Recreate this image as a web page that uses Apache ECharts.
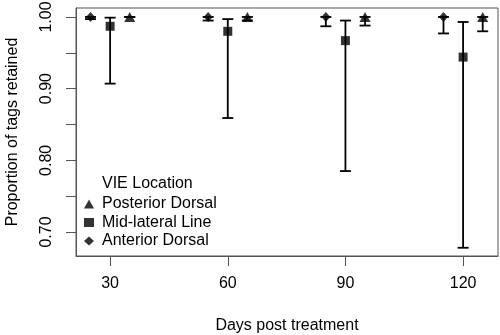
<!DOCTYPE html>
<html>
<head>
<meta charset="utf-8">
<script src="https://cdn.jsdelivr.net/npm/echarts@6/dist/echarts.min.js"></script>
<style>
  html, body { margin: 0; padding: 0; background: #fff; }
  #chart { width: 500px; height: 335px; }
</style>
</head>
<body>
<div id="chart"></div>
<script>
// Sampling days and retention estimates with confidence limits
const days = [30, 60, 90, 120];

const posteriorMean  = [1.000, 1.000, 1.000, 1.000];
const posteriorLower = [1.000, 0.995, 0.988, 0.980];
const posteriorUpper = [1.000, 1.000, 1.000, 1.000];

const midMean  = [0.987, 0.980, 0.967, 0.944];
const midLower = [0.907, 0.859, 0.785, 0.678];
const midUpper = [0.999, 0.997, 0.995, 0.993];

const anteriorMean  = [1.000, 1.000, 1.000, 1.000];
const anteriorLower = [0.997, 0.995, 0.987, 0.977];
const anteriorUpper = [1.000, 1.000, 1.000, 1.000];

const yTicks = [0.70, 0.75, 0.80, 0.85, 0.90, 0.95, 1.00];
const yLabels = [0.70, 0.80, 0.90, 1.00];

// Horizontal dodge (in days) so the three groups sit side by side
const DODGE = { anterior: -5, mid: 0, posterior: 5 };

const FONT = 'Liberation Sans, Arial, sans-serif';
const AXIS_GREY = '#555';

function points(mean, shift) {
  return days.map((d, i) => [d + shift, mean[i]]);
}
function bars(lower, upper, shift) {
  return days.map((d, i) => [d + shift, lower[i], upper[i]]);
}

// Vertical interval with end caps
function renderBar(params, api) {
  const x = api.value(0);
  const lo = api.coord([x, api.value(1)]);
  const hi = api.coord([x, api.value(2)]);
  const cap = 5.5;
  const style = { stroke: '#000', lineWidth: 1.8, fill: null };
  return {
    type: 'group',
    children: [
      { type: 'line', shape: { x1: lo[0], y1: lo[1], x2: hi[0], y2: hi[1] }, style },
      { type: 'line', shape: { x1: lo[0] - cap, y1: lo[1], x2: lo[0] + cap, y2: lo[1] }, style },
      { type: 'line', shape: { x1: hi[0] - cap, y1: hi[1], x2: hi[0] + cap, y2: hi[1] }, style }
    ]
  };
}

const chart = echarts.init(document.getElementById('chart'), null, { renderer: 'canvas' });

chart.setOption({
  animation: false,
  backgroundColor: '#fff',
  textStyle: { fontFamily: FONT },
  grid: {
    left: 76, right: 2, top: 8, bottom: 79,
    outerBoundsMode: 'none',
    containLabel: false,
    show: true, borderColor: AXIS_GREY, borderWidth: 1, backgroundColor: 'transparent'
  },
  title: {
    text: 'VIE Location',
    left: 97, top: 171,
    textStyle: { fontFamily: FONT, fontSize: 16, fontWeight: 'normal', color: '#000' }
  },
  legend: {
    orient: 'vertical',
    left: 79, top: 191,
    itemWidth: 10, itemHeight: 9, itemGap: 2.5,
    textStyle: { fontFamily: FONT, fontSize: 16, color: '#000', padding: [0, 0, 0, 3] },
    data: [
      { name: 'Posterior Dorsal', icon: 'triangle' },
      { name: 'Mid-lateral Line', icon: 'rect' },
      { name: 'Anterior Dorsal', icon: 'diamond' }
    ]
  },
  xAxis: {
    type: 'value',
    min: 21.3, max: 128.9,
    name: 'Days post treatment',
    nameLocation: 'middle',
    nameGap: 62,
    nameTextStyle: { fontFamily: FONT, fontSize: 16, color: '#000' },
    axisLine: { show: true, lineStyle: { color: AXIS_GREY, width: 1 } },
    axisTick: { show: true, length: 10, customValues: days, lineStyle: { color: AXIS_GREY } },
    axisLabel: { customValues: days, margin: 20, fontFamily: FONT, fontSize: 16, color: '#000' },
    splitLine: { show: false }
  },
  yAxis: {
    type: 'value',
    min: 0.6665, max: 1.0125,
    name: 'Proportion of tags retained',
    nameLocation: 'middle',
    nameGap: 55,
    nameTextStyle: { fontFamily: FONT, fontSize: 16, color: '#000' },
    axisLine: { show: true, lineStyle: { color: AXIS_GREY, width: 1 } },
    axisTick: { show: true, length: 10, customValues: yTicks, lineStyle: { color: AXIS_GREY } },
    axisLabel: {
      customValues: yLabels,
      rotate: 90,
      margin: 21,
      fontFamily: FONT, fontSize: 16, color: '#000',
      formatter: v => v.toFixed(2)
    },
    splitLine: { show: false }
  },
  series: [
    { type: 'custom', name: 'bars-anterior', renderItem: renderBar, data: bars(anteriorLower, anteriorUpper, DODGE.anterior), z: 1, silent: true },
    { type: 'custom', name: 'bars-mid', renderItem: renderBar, data: bars(midLower, midUpper, DODGE.mid), z: 1, silent: true },
    { type: 'custom', name: 'bars-posterior', renderItem: renderBar, data: bars(posteriorLower, posteriorUpper, DODGE.posterior), z: 1, silent: true },
    {
      type: 'scatter', name: 'Posterior Dorsal', symbol: 'triangle', symbolSize: [11, 10],
      itemStyle: { color: '#000' }, data: points(posteriorMean, DODGE.posterior), z: 3
    },
    {
      type: 'scatter', name: 'Mid-lateral Line', symbol: 'rect', symbolSize: 9,
      itemStyle: { color: '#000' }, data: points(midMean, DODGE.mid), z: 3
    },
    {
      type: 'scatter', name: 'Anterior Dorsal', symbol: 'diamond', symbolSize: [9, 10],
      itemStyle: { color: '#000' }, data: points(anteriorMean, DODGE.anterior), z: 3
    }
  ]
});
</script>
</body>
</html>
